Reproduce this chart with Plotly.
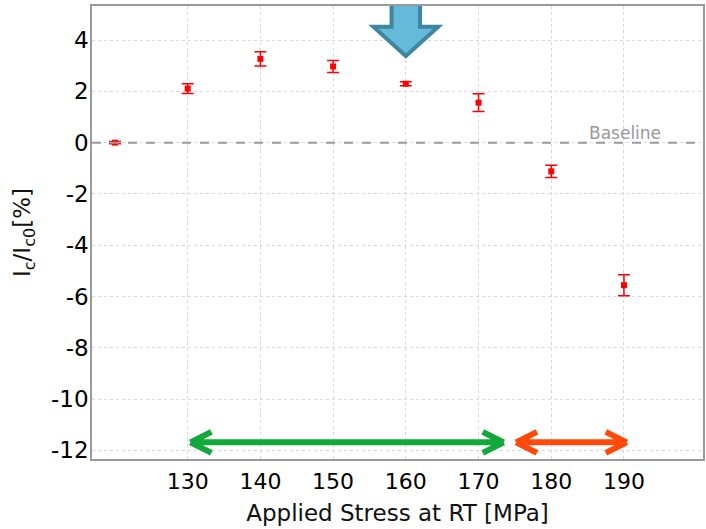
import plotly.graph_objects as go

# ---- data ----
stress = [120, 130, 140, 150, 160, 170, 180, 190]
ic_ratio = [0.0, 2.11, 3.27, 2.97, 2.30, 1.56, -1.12, -5.56]
ic_err = [0.04, 0.19, 0.28, 0.23, 0.08, 0.35, 0.24, 0.41]

x_ticks = [130, 140, 150, 160, 170, 180, 190]
y_ticks = [4, 2, 0, -2, -4, -6, -8, -10, -12]
y_ticklabels = ["4", "2", "0", "-2", "-4", "-6", "-8", "-10", "-12"]

baseline_value = 0
highlight_stress = 160          # big blue arrow
green_range = [130.04, 173.8]   # stable range arrow
orange_range = [174.82, 190.72] # degradation range arrow
range_arrow_y = -11.69

x_range = [116.84, 200.87]
y_range = [-12.34, 5.33]

fig = go.Figure()

fig.add_trace(go.Scatter(
    x=stress, y=ic_ratio, mode="markers",
    marker=dict(symbol="square", size=6, color="#ff0000"),
    error_y=dict(type="data", array=ic_err, visible=True, color="#ff0000",
                 thickness=1.5, width=6),
    showlegend=False, hoverinfo="x+y",
))

# baseline
fig.add_shape(type="line", xref="paper", x0=0, x1=1, yref="y",
              y0=baseline_value, y1=baseline_value,
              line=dict(color="#999999", width=2, dash="dash"), layer="above")
fig.add_annotation(x=190, y=baseline_value, xref="x", yref="y", text="Baseline",
                   showarrow=False, yanchor="bottom", xanchor="center", yshift=-2,
                   xshift=1,
                   font=dict(family="DejaVu Sans", size=17, color="#999999"))

# range double arrows (chevron heads)
px_x = (x_range[1] - x_range[0]) / 613.0
px_y = (y_range[1] - y_range[0]) / 453.0
arm_dx = 21 * px_x
arm_dy = 10.5 * px_y
tip_in = 2.5 * px_x
shaft_in = 4 * px_x

def double_arrow(x0, x1, y, color):
    a0 = x0 + tip_in
    a1 = x1 - tip_in
    p = (f"M {x0+shaft_in},{y} L {x1-shaft_in},{y} "
         f"M {a0+arm_dx},{y+arm_dy} L {a0},{y} "
         f"M {a0+arm_dx},{y-arm_dy} L {a0},{y} "
         f"M {a1-arm_dx},{y+arm_dy} L {a1},{y} "
         f"M {a1-arm_dx},{y-arm_dy} L {a1},{y}")
    fig.add_shape(type="path", xref="x", yref="y", path=p,
                  line=dict(color=color, width=6), layer="above")

double_arrow(green_range[0], green_range[1], range_arrow_y, "#12a83a")
double_arrow(orange_range[0], orange_range[1], range_arrow_y, "#ff4a0a")

# big blue block arrow pointing down at highlight_stress
c = highlight_stress
sw = 14.3 * px_x
hw = 32.5 * px_x
tip = 3.38
head_top = 4.52
top = 5.9
p = (f"M {c-sw},{top} L {c-sw},{head_top} L {c-hw},{head_top} L {c},{tip} "
     f"L {c+hw},{head_top} L {c+sw},{head_top} L {c+sw},{top} Z")
fig.add_shape(type="path", xref="x", yref="y", path=p,
              fillcolor="#64bad8", line=dict(color="#3f87a1", width=4), layer="above")

axis_common = dict(showline=True, mirror=True, linecolor="#9a9a9a", linewidth=1.5,
                   showgrid=True, gridcolor="#d6d6ea", griddash="dot", gridwidth=1,
                   zeroline=False, ticks="")

fig.update_xaxes(range=x_range, tickvals=x_ticks,
                 tickfont=dict(family="DejaVu Sans", size=22, color="#000000"),
                 ticklabelstandoff=2,
                 title=dict(text="Applied Stress at RT [MPa]", standoff=12,
                            font=dict(family="DejaVu Sans", size=23, color="#111111")),
                 **axis_common)
fig.update_yaxes(range=y_range, tickvals=y_ticks, ticktext=y_ticklabels,
                 tickfont=dict(family="DejaVu Sans", size=23, color="#000000"),
                 ticklabelstandoff=-3,
                 title=dict(text="I<sub>c</sub>/I<sub>c0</sub>[%]", standoff=14,
                            font=dict(family="DejaVu Sans", size=23, color="#111111")),
                 **axis_common)

fig.update_layout(width=706, height=529, margin=dict(l=92, r=1, t=6, b=70),
                  paper_bgcolor="white", plot_bgcolor="white")

fig.write_html("out.html")
